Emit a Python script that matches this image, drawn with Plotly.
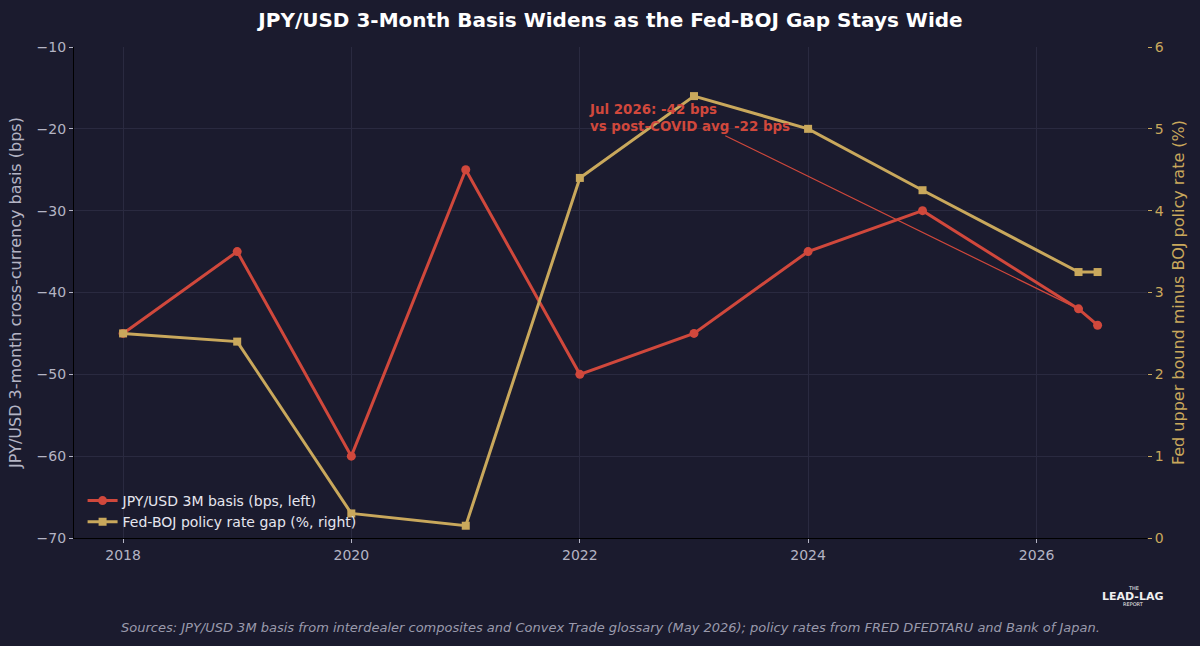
import plotly.graph_objects as go

# ---- data ----
dates = ["2018-01-01", "2019-01-01", "2020-01-01", "2021-01-01", "2022-01-01",
         "2023-01-01", "2024-01-01", "2025-01-01", "2026-05-15", "2026-07-15"]
basis_bps = [-45, -35, -60, -25, -50, -45, -35, -30, -42, -44]
rate_gap_pct = [2.5, 2.4, 0.3, 0.15, 4.4, 5.4, 5.0, 4.25, 3.25, 3.25]
left_ticks = [-10, -20, -30, -40, -50, -60, -70]
right_ticks = [0, 1, 2, 3, 4, 5, 6]

BG = "#1b1b2e"
RED = "#d0483c"
GOLD = "#c9a85c"
GRAY = "#b4b4c4"
GRID = "#2a2a40"
FONT = "DejaVu Sans"

fig = go.Figure()
fig.add_trace(go.Scatter(
    x=dates, y=basis_bps, mode="lines+markers",
    name="JPY/USD 3M basis (bps, left)",
    line=dict(color=RED, width=3), marker=dict(symbol="circle", size=9, color=RED),
    yaxis="y"))
fig.add_trace(go.Scatter(
    x=dates, y=rate_gap_pct, mode="lines+markers",
    name="Fed-BOJ policy rate gap (%, right)",
    line=dict(color=GOLD, width=3), marker=dict(symbol="square", size=8, color=GOLD),
    yaxis="y2"))

fig.update_layout(
    width=1200, height=646,
    paper_bgcolor=BG, plot_bgcolor=BG,
    margin=dict(l=74, r=53, t=47, b=108),
    font=dict(family=FONT, color=GRAY, size=13),
    title=dict(text="<b>JPY/USD 3-Month Basis Widens as the Fed-BOJ Gap Stays Wide</b>",
               x=0.5, xref="paper", xanchor="center", y=1 - 20 / 646, yref="container",
               yanchor="middle", font=dict(size=20, color="#ffffff", family=FONT)),
    xaxis=dict(type="date", range=["2017-07-28", "2026-12-20"],
               tick0="2018-01-01", dtick="M24", tickformat="%Y",
               showgrid=True, gridcolor=GRID, gridwidth=1, zeroline=False,
               showline=True, linecolor="#000000", linewidth=1.2,
               ticks="outside", ticklen=4, tickcolor=GRAY,
               tickfont=dict(size=14, color=GRAY)),
    yaxis=dict(range=[-70, -10], tickvals=left_ticks,
               ticktext=["\u2212" + str(abs(v)) for v in left_ticks],
               showgrid=True, gridcolor=GRID, gridwidth=1, zeroline=False,
               showline=True, linecolor="#000000", linewidth=1.2,
               ticks="outside", ticklen=4, tickcolor=GRAY,
               tickfont=dict(size=14, color=GRAY),
               title=dict(text="JPY/USD 3-month cross-currency basis (bps)",
                          font=dict(size=16, color=GRAY), standoff=10)),
    yaxis2=dict(range=[0, 6], tickvals=right_ticks, overlaying="y", side="right",
                showgrid=False, zeroline=False, showline=False,
                ticks="outside", ticklen=4, tickcolor=GOLD,
                tickfont=dict(size=14, color=GOLD),
                title=dict(text="Fed upper bound minus BOJ policy rate (%)",
                           font=dict(size=16, color=GOLD), standoff=10)),
    legend=dict(x=0.008, y=0.0, xanchor="left", yanchor="bottom",
                bgcolor="rgba(0,0,0,0)", borderwidth=0,
                font=dict(size=14, color="#e6e6ee", family=FONT),
                tracegroupgap=0),
    showlegend=True,
)

# annotation with arrow to the -42 bps point
fig.add_annotation(
    x=dates[8], y=basis_bps[8], xref="x", yref="y",
    ax="2022-12-18", ay=-18.7, axref="x", ayref="y",
    text="<b>Jul 2026: -42 bps<br>vs post-COVID avg -22 bps</b>",
    align="left", font=dict(size=13.4, color=RED, family=FONT),
    showarrow=True, arrowhead=0, arrowwidth=1.2, arrowcolor=RED, standoff=0)

# source line
fig.add_annotation(
    x=0.5, y=-0.183, xref="paper", yref="paper", xanchor="center", yanchor="middle",
    text="<i>Sources: JPY/USD 3M basis from interdealer composites and Convex Trade glossary (May 2026); policy rates from FRED DFEDTARU and Bank of Japan.</i>",
    showarrow=False, font=dict(size=13, color="#9a9aac", family=FONT))

# logo text
for txt, ypx, sz in [("THE", 588, 5), ("<b>LEAD-LAG</b>", 596, 11), ("REPORT", 604, 5)]:
    fig.add_annotation(x=(1133 - 74) / 1073, y=-(ypx - 538) / 491, xref="paper", yref="paper",
                       xanchor="center", yanchor="middle", text=txt, showarrow=False,
                       font=dict(size=sz, color="#f0f0f0", family=FONT))

fig.write_html("out.html")
